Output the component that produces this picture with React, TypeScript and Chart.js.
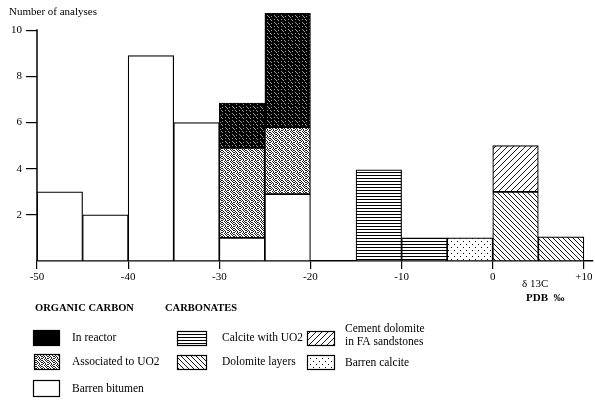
import React, { useEffect, useRef } from "react";
import { Chart, registerables } from "chart.js";

Chart.register(...registerables);

// ---------- data ----------
const binStarts = [-50, -45, -40, -35, -30, -25, -20, -15, -10, -5, 0, 5];
const BIN_WIDTH = 5;
const barrenBitumen = [3, 2, 8.9, 6, 1, 2.9, null, null, null, null, null, null];
const associatedUO2 = [null, null, null, null, 3.9, 2.9, null, null, null, null, null, null];
const inReactor = [null, null, null, null, 1.95, 4.95, null, null, null, null, null, null];
const calciteWithUO2 = [null, null, null, null, null, null, null, 3.95, 1, null, null, null];
const barrenCalcite = [null, null, null, null, null, null, null, null, null, 1, null, null];
const dolomiteLayers = [null, null, null, null, null, null, null, null, null, null, 3, 1.05];
const cementDolomite = [null, null, null, null, null, null, null, null, null, null, 2, null];

const xTickValues = [-50, -40, -30, -20, -10, 0, 10];
const yTickValues = [2, 4, 6, 8, 10];
const yAxisTitle = "Number of analyses";
const xAxisTitleLines = ["\u03b4 13C", "PDB  \u2030"];
const groupTitles = ["ORGANIC CARBON", "CARBONATES"];

const FONT = "'Liberation Serif', 'Times New Roman', serif";

type PatternKey =
  | "bitumen"
  | "uo2"
  | "reactor"
  | "calcite"
  | "barrenCalcite"
  | "dolomite"
  | "cement";

const seriesDefs: { key: PatternKey; label: string[]; values: (number | null)[] }[] = [
  { key: "bitumen", label: ["Barren bitumen"], values: barrenBitumen },
  { key: "uo2", label: ["Associated to UO2"], values: associatedUO2 },
  { key: "reactor", label: ["In reactor"], values: inReactor },
  { key: "calcite", label: ["Calcite with UO2"], values: calciteWithUO2 },
  { key: "barrenCalcite", label: ["Barren calcite"], values: barrenCalcite },
  { key: "dolomite", label: ["Dolomite layers"], values: dolomiteLayers },
  { key: "cement", label: ["Cement dolomite", "in FA sandstones"], values: cementDolomite },
];

function tile(
  ctx: CanvasRenderingContext2D,
  w: number,
  h: number,
  draw: (g: CanvasRenderingContext2D, w: number, h: number) => void
) {
  const c = document.createElement("canvas");
  c.width = w;
  c.height = h;
  const g = c.getContext("2d")!;
  draw(g, w, h);
  return ctx.createPattern(c, "repeat")!;
}

function bitmap(rows: string[], on: string, off: string) {
  return (g: CanvasRenderingContext2D) => {
    rows.forEach((r, y) => {
      for (let x = 0; x < r.length; x++) {
        g.fillStyle = r[x] === "1" ? on : off;
        g.fillRect(x, y, 1, 1);
      }
    });
  };
}

function makePatterns(ctx: CanvasRenderingContext2D): Record<PatternKey, CanvasPattern | string> {
  const diag = (s: number, back: boolean) =>
    tile(ctx, s, s, (g) => {
      g.fillStyle = "#fff";
      g.fillRect(0, 0, s, s);
      g.strokeStyle = "#000";
      g.lineWidth = 0.9;
      g.beginPath();
      for (const k of [-1, 0, 1]) {
        if (back) {
          g.moveTo(k * s, 0);
          g.lineTo(k * s + s, s);
        } else {
          g.moveTo(k * s, s);
          g.lineTo(k * s + s, 0);
        }
      }
      g.stroke();
    });
  return {
    bitumen: "#ffffff",
    reactor: tile(
      ctx,
      7,
      7,
      bitmap(["0000000", "0100000", "0010010", "0001000", "0000000", "0100100", "0000010"], "#9a9a9a", "#000")
    ),
    uo2: tile(
      ctx,
      6,
      6,
      bitmap(["100101", "010010", "101001", "010100", "100101", "001010"], "#222", "#fff")
    ),
    calcite: tile(ctx, 4, 3, (g) => {
      g.fillStyle = "#fff";
      g.fillRect(0, 0, 4, 3);
      g.fillStyle = "#000";
      g.fillRect(0, 1, 4, 1);
    }),
    barrenCalcite: tile(ctx, 6, 6, (g) => {
      g.fillStyle = "#fff";
      g.fillRect(0, 0, 6, 6);
      g.fillStyle = "#000";
      g.fillRect(1, 1, 1, 1);
      g.fillRect(4, 4, 1, 1);
    }),
    dolomite: diag(5, true),
    cement: diag(6, false),
  };
}

export default function App() {
  const ref = useRef<HTMLCanvasElement>(null);

  useEffect(() => {
    document.body.style.margin = "0";
    const canvas = ref.current!;
    const ctx = canvas.getContext("2d")!;
    const pats = makePatterns(ctx);

    const datasets = seriesDefs.map((s) => ({
      label: s.label.join(" "),
      data: binStarts
        .map((b, i) => ({ x: b + BIN_WIDTH / 2, y: s.values[i] }))
        .filter((p) => p.y !== null),
      backgroundColor: pats[s.key] as any,
      borderColor: "#000",
      borderWidth: 1.2,
      borderSkipped: false as const,
      categoryPercentage: 1,
      barPercentage: 1,
    }));

    const legendLayout: { key: PatternKey; bx: number; by: number; bw: number; bh: number; tx: number; ty: number }[] = [
      { key: "reactor", bx: 33, by: 330, bw: 27, bh: 16, tx: 72, ty: 338 },
      { key: "uo2", bx: 34, by: 354, bw: 26, bh: 16, tx: 72, ty: 362 },
      { key: "bitumen", bx: 33, by: 380, bw: 27, bh: 17, tx: 72, ty: 389 },
      { key: "calcite", bx: 177, by: 331, bw: 30, bh: 15, tx: 222, ty: 338 },
      { key: "dolomite", bx: 177, by: 355, bw: 30, bh: 15, tx: 222, ty: 362 },
      { key: "cement", bx: 307, by: 331, bw: 28, bh: 15, tx: 345, ty: 335 },
      { key: "barrenCalcite", bx: 307, by: 355, bw: 28, bh: 15, tx: 345, ty: 363 },
    ];

    const decor = {
      id: "decor",
      afterDraw(chart: any) {
        const c: CanvasRenderingContext2D = chart.ctx;
        const xs = chart.scales.x;
        const ys = chart.scales.y;
        c.save();
        // y axis line (0 to 10)
        c.strokeStyle = "#000";
        c.lineWidth = 1.5;
        c.beginPath();
        const ax = xs.getPixelForValue(-50);
        c.moveTo(ax, ys.getPixelForValue(0));
        c.lineTo(ax, ys.getPixelForValue(10) - 1);
        c.stroke();

        c.fillStyle = "#000";
        c.textBaseline = "middle";
        c.textAlign = "left";
        c.font = `11px ${FONT}`;
        c.fillText(yAxisTitle, 9, 12);

        // x axis title
        c.font = `11px ${FONT}`;
        c.fillText(xAxisTitleLines[0], 522, 284);
        c.font = `bold 11px ${FONT}`;
        c.fillText(xAxisTitleLines[1], 526, 298);

        // group titles
        c.font = `bold 10.5px ${FONT}`;
        c.fillText(groupTitles[0], 35, 308);
        c.fillText(groupTitles[1], 165, 308);

        // legend entries
        c.font = `11.5px ${FONT}`;
        legendLayout.forEach((l) => {
          const def = seriesDefs.find((s) => s.key === l.key)!;
          c.fillStyle = l.key === "reactor" ? "#000" : (pats[l.key] as any);
          c.fillRect(l.bx, l.by, l.bw, l.bh);
          c.strokeStyle = "#000";
          c.lineWidth = 1.2;
          c.strokeRect(l.bx + 0.5, l.by + 0.5, l.bw - 1, l.bh - 1);
          c.fillStyle = "#000";
          def.label.forEach((line, i) => {
            const off = def.label.length > 1 ? (i - (def.label.length - 1) / 2) * 13 : 0;
            c.fillText(line, l.tx, l.ty + off);
          });
        });
        c.restore();
      },
    };

    const chart = new Chart(ctx, {
      type: "bar",
      data: { datasets: datasets as any },
      options: {
        responsive: false,
        animation: false,
        devicePixelRatio: 1,
        layout: { padding: { left: 0, top: 13, right: 2, bottom: 130 } },
        plugins: { legend: { display: false }, tooltip: { enabled: false } },
        scales: {
          x: {
            type: "linear",
            min: -50,
            max: 11,
            stacked: true,
            offset: false,
            afterBuildTicks: (s: any) => {
              s.ticks = xTickValues.map((v) => ({ value: v }));
            },
            afterFit: (s: any) => {
              s.height = 22;
            },
            ticks: {
              callback: (v: any) => (Number(v) > 0 ? "+" + v : String(v)),
              color: "#000",
              font: { family: FONT, size: 11 },
              padding: 2,
              maxRotation: 0,
              autoSkip: false,
            },
            grid: {
              display: true,
              offset: false,
              drawOnChartArea: false,
              drawTicks: true,
              tickLength: 8,
              color: "#000",
              lineWidth: 1.2,
            },
            border: { display: true, color: "#000", width: 1.5 },
          },
          y: {
            type: "linear",
            min: 0,
            max: 10.75,
            stacked: true,
            afterBuildTicks: (s: any) => {
              s.ticks = yTickValues.map((v) => ({ value: v }));
            },
            afterFit: (s: any) => {
              s.width = 37;
            },
            ticks: {
              color: "#000",
              font: { family: FONT, size: 11 },
              padding: 4,
            },
            grid: {
              display: true,
              drawOnChartArea: false,
              drawTicks: true,
              tickLength: 11,
              color: "#000",
              lineWidth: 1.2,
            },
            border: { display: false },
          },
        },
      } as any,
      plugins: [decor],
    });
    return () => chart.destroy();
  }, []);

  return <canvas ref={ref} width={595} height={413} style={{ display: "block" }} />;
}
